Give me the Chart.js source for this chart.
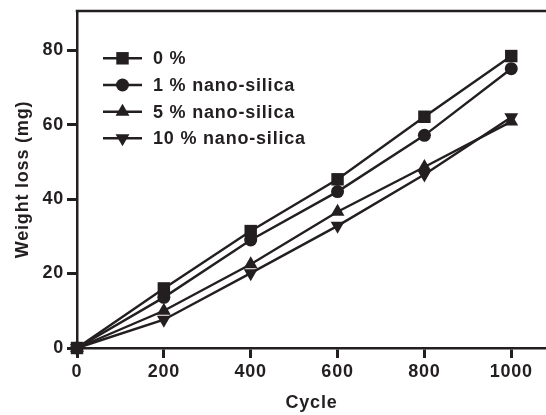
<!DOCTYPE html>
<html>
<head>
<meta charset="utf-8">
<script src="https://cdn.jsdelivr.net/npm/chart.js@4.4.1/dist/chart.umd.min.js"></script>
<style>
  html, body { margin: 0; padding: 0; background: #ffffff; }
  #wrap { position: relative; width: 546px; height: 415px; }
</style>
</head>
<body>
<div id="wrap"><canvas id="c" width="546" height="415"></canvas></div>
<script>
// ---- data ----
const cycles = [0, 200, 400, 600, 800, 1000];
const seriesNames = ['0 %', '1 % nano-silica', '5 % nano-silica', '10 % nano-silica'];
const loss0 = [0, 16.0, 31.4, 45.3, 62.1, 78.4];
const loss1 = [0, 13.6, 29.0, 42.0, 57.1, 75.0];
const loss5 = [0, 10.0, 22.5, 36.6, 48.6, 60.8];
const loss10 = [0, 7.6, 20.1, 32.8, 46.6, 62.0];
const xTickValues = [0, 200, 400, 600, 800, 1000];
const yTickValues = [0, 20, 40, 60, 80];
const xTitle = 'Cycle';
const yTitle = 'Weight loss (mg)';

const INK = '#231f20';
const FONT = "'Liberation Sans', Arial, Helvetica, sans-serif";
const FSIZE = 18;
const SPACING = '0.8px';

const styles = [
  { pointStyle: 'rect', radius: 8.8, rotation: 0 },
  { pointStyle: 'circle', radius: 6.5, rotation: 0 },
  { pointStyle: 'triangle', radius: 8, rotation: 0 },
  { pointStyle: 'triangle', radius: 8, rotation: 180 }
];
const values = [loss0, loss1, loss5, loss10];

const datasets = values.map((vals, i) => ({
  label: seriesNames[i],
  data: cycles.map((c, j) => ({ x: c, y: vals[j] })),
  borderColor: INK,
  backgroundColor: INK,
  borderWidth: 2.4,
  pointStyle: styles[i].pointStyle,
  pointRadius: styles[i].radius,
  pointRotation: styles[i].rotation,
  pointBorderWidth: 0,
  pointBackgroundColor: INK,
  clip: false,
  tension: 0
}));

const spacingPlugin = {
  id: 'spacing',
  beforeUpdate(chart) { chart.ctx.letterSpacing = SPACING; },
  beforeDraw(chart) { chart.ctx.letterSpacing = SPACING; }
};

const decorPlugin = {
  id: 'decor',
  afterDraw(chart) {
    const ctx = chart.ctx;
    const a = chart.chartArea;
    ctx.save();
    // top frame line
    ctx.strokeStyle = INK;
    ctx.lineWidth = 2.5;
    ctx.beginPath();
    ctx.moveTo(a.left - 1.25, a.top);
    ctx.lineTo(a.right, a.top);
    ctx.stroke();
    // legend
    const x0 = a.left + 26, x1 = a.left + 65, xm = a.left + 45.5, xt = a.left + 76;
    const rowY = [58.3, 85, 111.7, 138.3];
    ctx.font = 'bold ' + FSIZE + 'px ' + FONT;
    ctx.letterSpacing = SPACING;
    ctx.textBaseline = 'middle';
    ctx.textAlign = 'left';
    chart.data.datasets.forEach((ds, i) => {
      const y = rowY[i];
      ctx.strokeStyle = INK;
      ctx.lineWidth = 2.4;
      ctx.beginPath();
      ctx.moveTo(x0, y);
      ctx.lineTo(x1, y);
      ctx.stroke();
      ctx.fillStyle = INK;
      Chart.helpers.drawPoint(ctx, {
        pointStyle: ds.pointStyle,
        radius: ds.pointRadius,
        rotation: ds.pointRotation,
        borderWidth: 0
      }, xm, y);
      ctx.fillStyle = INK;
      ctx.fillText(ds.label, xt, y + 1);
    });
    ctx.restore();
  }
};

const tickFont = { family: FONT, size: FSIZE, weight: 'bold' };

new Chart(document.getElementById('c'), {
  type: 'line',
  data: { datasets },
  options: {
    responsive: false,
    animation: false,
    events: [],
    layout: { autoPadding: false, padding: { top: 11, right: 0, left: 0, bottom: 0 } },
    plugins: {
      legend: { display: false },
      tooltip: { enabled: false },
      title: { display: false }
    },
    scales: {
      x: {
        type: 'linear',
        min: 0,
        max: 1080,
        afterBuildTicks: (s) => { s.ticks = xTickValues.map(v => ({ value: v })); },
        afterFit: (s) => { s.height = 67; s.paddingLeft = 0; s.paddingRight = 0; },
        grid: {
          display: true,
          drawOnChartArea: false,
          drawTicks: true,
          tickLength: 10,
          tickWidth: 3,
          tickColor: INK
        },
        border: { display: true, color: INK, width: 2.5 },
        ticks: {
          color: INK,
          padding: 3,
          maxRotation: 0,
          autoSkip: false,
          callback: (v) => String(v),
          font: tickFont
        },
        title: {
          display: true,
          text: xTitle,
          color: INK,
          padding: { top: 0, bottom: 1 },
          font: tickFont
        }
      },
      y: {
        type: 'linear',
        min: 0,
        max: 90.5,
        afterBuildTicks: (s) => { s.ticks = yTickValues.map(v => ({ value: v })); },
        afterFit: (s) => { s.width = 77; s.paddingTop = 0; s.paddingBottom = 0; },
        grid: {
          display: true,
          drawOnChartArea: false,
          drawTicks: true,
          tickLength: 10,
          tickWidth: 3,
          tickColor: INK
        },
        border: { display: true, color: INK, width: 2.5 },
        ticks: {
          color: INK,
          padding: 3,
          autoSkip: false,
          callback: (v) => String(v),
          font: tickFont
        },
        title: {
          display: true,
          text: yTitle,
          color: INK,
          padding: { top: 12, bottom: 0 },
          font: tickFont
        }
      }
    }
  },
  plugins: [spacingPlugin, decorPlugin]
});
</script>
</body>
</html>
